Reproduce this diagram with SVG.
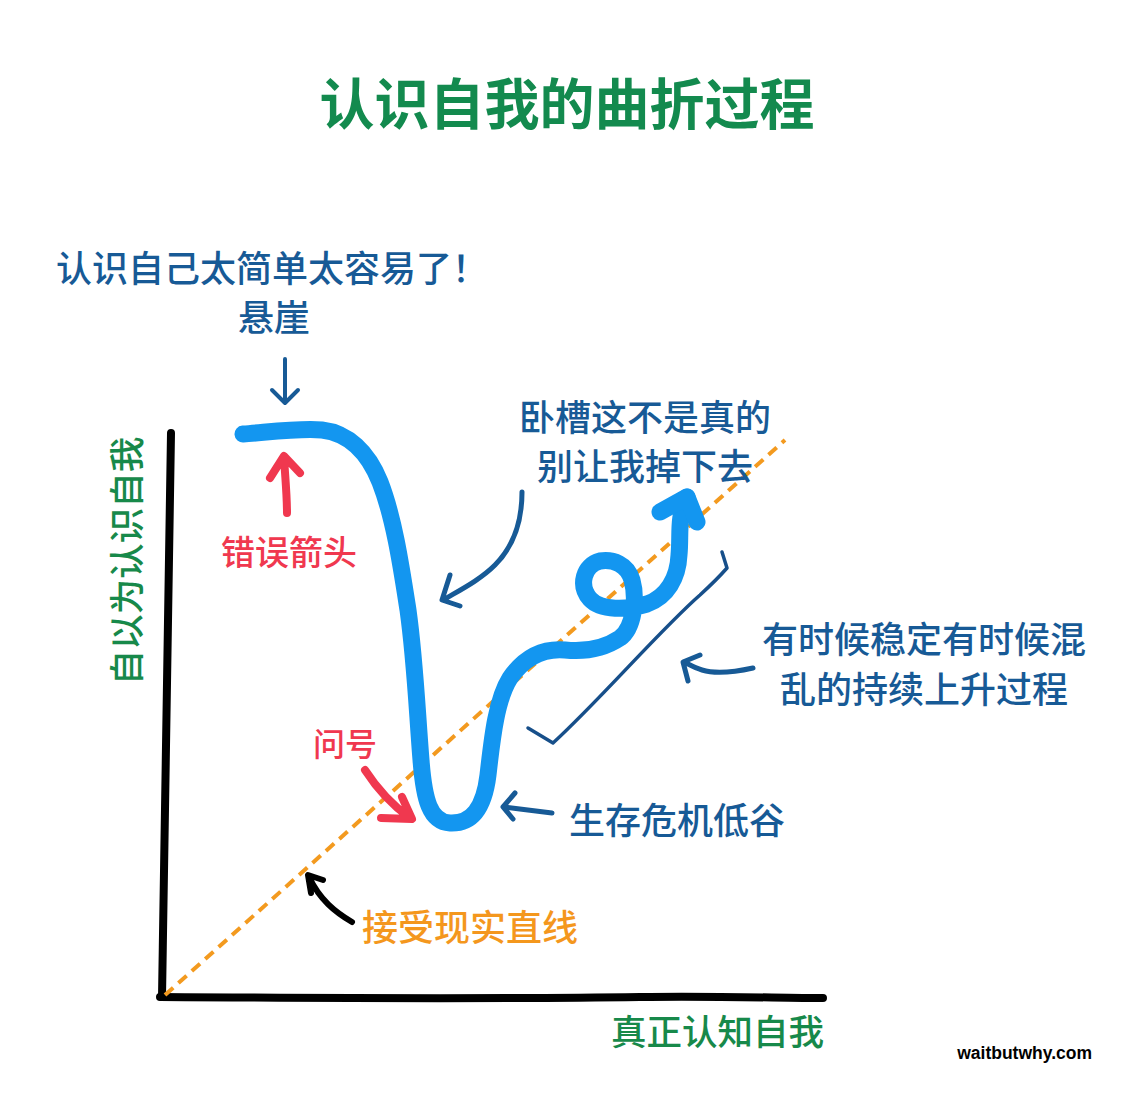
<svg xmlns="http://www.w3.org/2000/svg" width="1135" height="1100" viewBox="0 0 1135 1100">
<style>
text{font-family:"Noto Sans CJK SC","Noto Sans",sans-serif;}
.title{font-size:55px;font-weight:700;fill:#138a4e;}
.green{font-size:35.5px;font-weight:500;fill:#17894a;}
.blue{font-size:36px;font-weight:500;fill:#175a96;}
.red{font-size:34px;font-weight:500;fill:#f0384f;}
.orange{font-size:36px;font-weight:500;fill:#f4971d;}
.ln{fill:none;stroke-linecap:round;stroke-linejoin:round;}
.dk{stroke:#175a96;stroke-width:5;}
.axis{stroke:#000;stroke-width:8;}
.curve{stroke:#1396f0;stroke-width:17;}
.redarrow{stroke:#f0384f;stroke-width:8;}
.dash{stroke:#f39a1f;stroke-width:4;stroke-dasharray:11 7;fill:none;}
</style>
<rect width="1135" height="1100" fill="#fff"/>
<g id="title"><text class="title" x="567" y="124" text-anchor="middle">认识自我的曲折过程</text></g>

<g id="axes">
<path class="ln axis" d="M171,433 C170,600 165,800 162,997"/>
<path class="ln axis" d="M160,997 C300,998 500,999 640,997 C720,996 780,998 823,998"/>
</g>
<g id="reality-line"><path class="dash" d="M165,995 L785,440"/></g>

<g id="y-label"><text class="green" transform="translate(128,561) rotate(-90)" x="0" y="12" text-anchor="middle">自以为认识自我</text></g>
<g id="x-label"><text class="green" x="611" y="1045">真正认知自我</text></g>
<g id="credit"><text x="1092" y="1059" text-anchor="end" style="font-family:'Liberation Sans',Arial,sans-serif;font-weight:700;font-size:17.5px;fill:#000">waitbutwhy.com</text></g>

<g id="curve">
<path class="ln curve" d="M243,434 C270,432 300,428 322,430 C348,433 368,452 380,482 C394,518 401,565 408,610 C415,660 417,710 421,760 C424,800 430,822 450,823 C472,824 484,808 488,775 C492,740 496,700 510,678 C524,658 542,648 565,650 C585,652 605,648 620,638 C634,628 637,598 632,580 C627,564 613,559 600,561 C584,565 578,585 590,599 C601,611 627,610 647,604 C667,597 678,578 679,555 C681,535 677,518 687,497"/>
<path class="ln curve" d="M660,512 L687,497 L697,522"/>
</g>

<g id="cliff-label">
<text class="blue" x="56" y="282">认识自己太简单太容易了！</text>
<text class="blue" x="274" y="331" text-anchor="middle">悬崖</text>
</g>

<g id="wrong-arrow-label"><text class="red" x="221" y="565">错误箭头</text></g>
<g id="question-label"><text class="red" x="313" y="756" style="font-size:32px">问号</text></g>
<g id="shock-label">
<text class="blue" x="645" y="431" text-anchor="middle">卧槽这不是真的</text>
<text class="blue" x="645" y="480" text-anchor="middle">别让我掉下去</text>
</g>
<g id="valley-label"><text class="blue" x="569" y="834">生存危机低谷</text></g>
<g id="rise-label">
<text class="blue" x="924" y="653" text-anchor="middle">有时候稳定有时候混</text>
<text class="blue" x="924" y="703" text-anchor="middle">乱的持续上升过程</text>
</g>
<g id="reality-label"><text class="orange" x="362" y="941">接受现实直线</text></g>

<g id="connectors">
<path class="ln dk" style="stroke-width:4" d="M285,359 L285,402 M272,390 L285,403 L298,390"/>
<path class="ln redarrow" d="M287,513 C287,495 285,475 284,457 M270,478 L284,456 L300,473"/>
<path class="ln redarrow" d="M365,770 C378,790 392,805 410,818 M402,797 L412,819 L381,818"/>
<path class="ln dk" d="M522,492 C522,520 515,545 495,565 C480,580 460,590 443,600 M450,575 L442,600 L460,606"/>
<path class="ln dk" d="M552,813 C535,811 520,809 504,807 M515,793 L503,807 L513,819"/>
<path class="ln dk" d="M753,668 C735,672 715,674 702,670 C695,668 690,665 684,662 M700,655 L683,662 L688,681"/>
<path class="ln" style="stroke:#174f8a;stroke-width:3.5" d="M528,728 L553,743 C600,700 660,630 700,595 C712,584 720,576 727,568 L722,552"/>
<path class="ln" style="stroke:#000;stroke-width:6" d="M352,922 C335,912 320,900 309,877 M323,880 L308,875 L311,893"/>
</g>
</svg>
